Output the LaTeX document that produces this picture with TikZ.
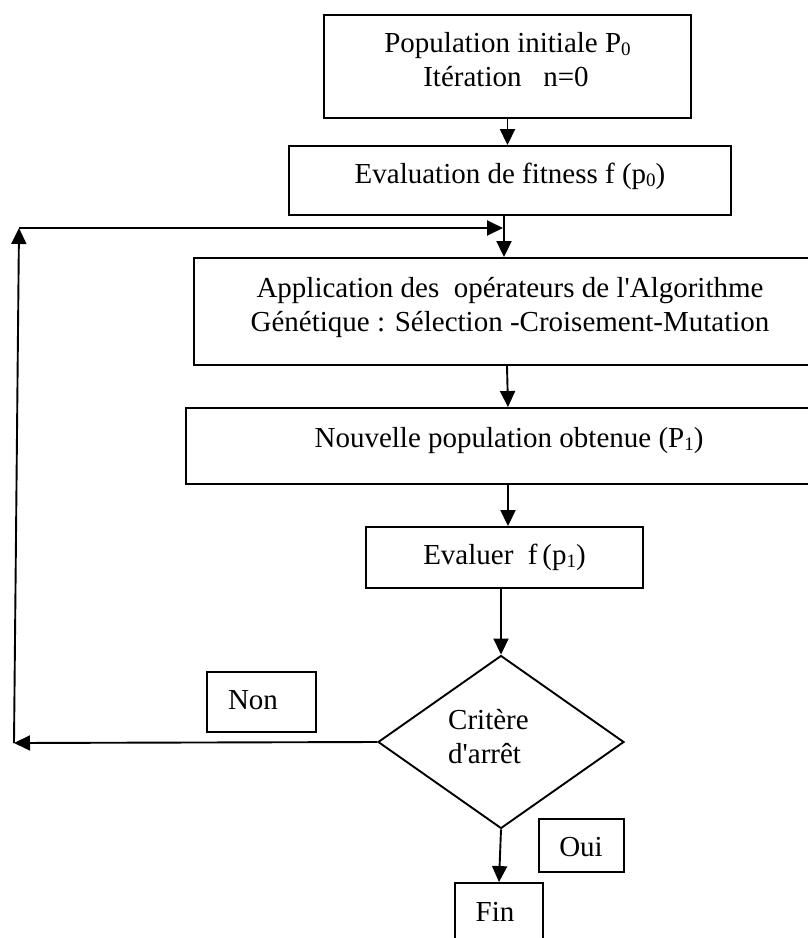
\documentclass[tikz,border=0pt]{standalone}
\usepackage{fontspec}
\setmainfont{Liberation Serif}
\usetikzlibrary{arrows.meta,shapes.geometric}

% small lowered digit used for P0, p0, P1, p1
\newcommand{\lowsub}[1]{\raisebox{-0.12em}{\fontsize{19}{19}\selectfont #1}}

\begin{document}
\begin{tikzpicture}[x=1pt,y=-1pt,
  box/.style={draw, line width=1.9pt, rectangle, inner sep=0pt},
  decision/.style={draw, line width=1.9pt, diamond, inner sep=0pt},
  lbl/.style={anchor=base, inner sep=0pt, font=\fontsize{29}{34}\selectfont},
  lblw/.style={lbl, anchor=base west},
  flow/.style={line width=1.9pt, -{Triangle[length=16pt,width=15pt]}},
]
\path[use as bounding box, fill=white] (0,0) rectangle (808,938);

% boxes
\node[box, minimum width=367pt, minimum height=103pt] (b1) at (507.5,66.5) {};
\node[box, minimum width=442pt, minimum height=69pt]  (b2) at (510,180.5) {};
\node[box, minimum width=626pt, minimum height=107pt] (b3) at (507,311.5) {};
\node[box, minimum width=644pt, minimum height=76pt]  (b4) at (508,446) {};
\node[box, minimum width=277pt, minimum height=61pt]  (b5) at (504.5,557.5) {};
\node[decision, minimum width=246pt, minimum height=173pt] (dia) at (501,742) {};
\node[box, minimum width=109pt, minimum height=60pt] (non) at (261.5,702) {};
\node[box, minimum width=85pt, minimum height=53pt]  (oui) at (581.5,845.5) {};
\node[box, minimum width=88pt, minimum height=70pt]  (fin) at (499,918) {};

% texts
\node[lbl] (t1a) at (507.5,52) {Population initiale P\lowsub{0}};
\node[lbl] (t1b) at (506,86) {Itération\ \ \ n=0};
\node[lbl] (t2)  at (510,183) {Evaluation de fitness f (p\lowsub{0})};
\node[lbl] (t3a) at (510,297) {Application des\ \ opérateurs de l\textquotesingle Algorithme};
\node[lbl] (t3b) at (510,331) {Génétique : Sélection -Croisement-Mutation};
\node[lbl] (t4)  at (509,447) {Nouvelle population obtenue (P\lowsub{1})};
\node[lbl] (t5)  at (504.5,564) {Evaluer\ \ f\,(p\lowsub{1})};
\node[lblw] (t6a) at (448,729) {Critère};
\node[lblw] (t6b) at (448,763) {d\textquotesingle arrêt};
\node[lbl] (t7)  at (253,709) {Non};
\node[lbl] (t8)  at (581,856) {Oui};
\node[lbl] (t9)  at (495,921) {Fin};

% main flow
\draw[flow] (b1.south) -- (b1.south |- b2.north);
\draw[flow] ([xshift=-6pt]b2.south) -- ([xshift=-6pt]b2.south |- b3.north);
\draw[flow] (b3.south) -- (b4.north);
\draw[flow] (b4.south) -- (b4.south |- b5.north);
\draw[flow] ([xshift=-3.5pt]b5.south) -- (dia.north);
\draw[flow] (dia.south) -- (fin.north);

% loop back when the stop criterion fails
\coordinate (fbL) at (14,743);
\coordinate (fbT) at (19,228);
\coordinate (fbR) at (503,228);
\draw[flow] (dia.west) -- (fbL);
\draw[flow] (fbL) -- (fbT);
\draw[flow] (fbT) -- (fbR);
\end{tikzpicture}
\end{document}
